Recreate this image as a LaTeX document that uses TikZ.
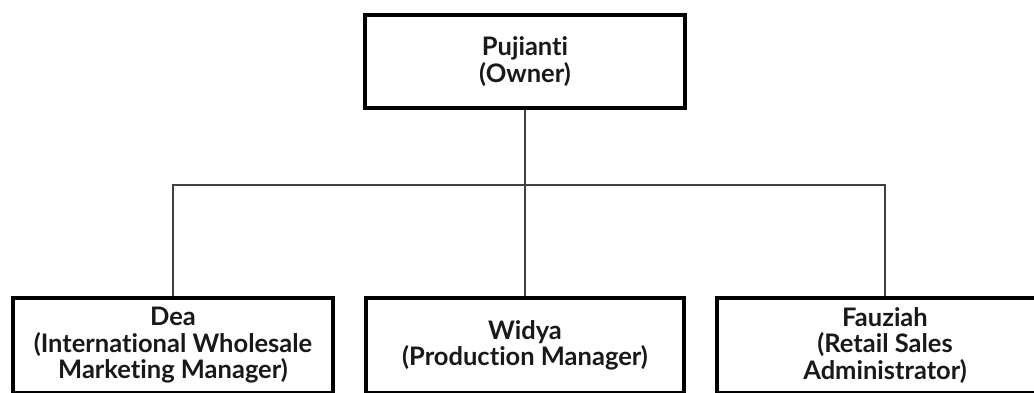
\documentclass[tikz,border=0pt]{standalone}
\usepackage{fontspec}
\setmainfont{Lato}[Ligatures=NoCommon]
\begin{document}
\begin{tikzpicture}[x=1pt,y=-1pt,
  box/.style={draw=black,line width=3.5pt,fill=white,inner sep=0pt,align=center,
    font=\fontsize{25.5}{26.5}\selectfont\bfseries,text=black!90},
  link/.style={draw=black!75,line width=1.6pt}]
\useasboundingbox (0,0) rectangle (1034,392);
\clip (0,0) rectangle (1034,392);
\fill[white] (0,0) rectangle (1034,392);
\node[box,minimum width=320pt,minimum height=93pt] (top) at (525,61.5) {Pujianti\\(Owner)};
\node[box,minimum width=320pt,minimum height=95pt] (dea) at (173,345.5) {Dea\\(International Wholesale\\Marketing Manager)};
\node[box,minimum width=318pt,minimum height=95pt] (wid) at (525,345.5) {Widya\\(Production Manager)};
\node[box,minimum width=336pt,minimum height=95pt] (fau) at (885,345.5) {Fauziah\\(Retail Sales\\Administrator)};
\coordinate (bus) at (525,185);
\draw[link] (top.south) -- (wid.north);
\draw[link] (dea.north) |- (bus) -| (fau.north);
\end{tikzpicture}
\end{document}
